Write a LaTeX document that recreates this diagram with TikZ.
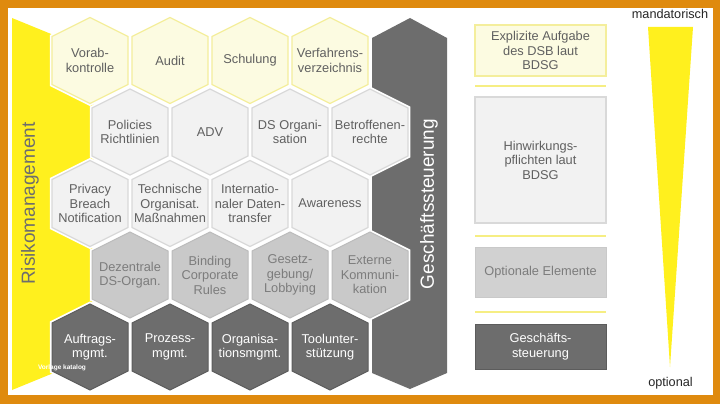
\documentclass[tikz,border=0pt]{standalone}
\usepackage{fontspec}
\setmainfont{Liberation Sans}
\definecolor{frameor}{HTML}{DF8A0E}
\definecolor{ybright}{HTML}{FFF01E}
\definecolor{ylight}{HTML}{FCFBE1}
\definecolor{yborder}{HTML}{F4EE9C}
\definecolor{glight}{HTML}{F2F2F2}
\definecolor{glightb}{HTML}{D9D9D9}
\definecolor{gmid}{HTML}{C9C9C9}
\definecolor{gmidb}{HTML}{BBBBBB}
\definecolor{gdark}{HTML}{6D6D6D}
\definecolor{gdarkb}{HTML}{5C5C5C}
\definecolor{tgray}{HTML}{606060}
\definecolor{tmid}{HTML}{7C7C7C}
\newcommand{\hexcell}[6]{%
  \path[#4,preaction={draw=white,line width=4.5pt},shift={(#2,#3)}]
    (0,-43) -- (38,-24) -- (38,24) -- (0,43) -- (-38,24) -- (-38,-24) -- cycle;
  \node[#5] (#1) at (#2,#3) {#6};}
\begin{document}
\begin{tikzpicture}[x=1pt,y=-1pt,
  hexA/.style={fill=ylight,draw=yborder,line width=1.3pt},
  hexB/.style={fill=glight,draw=glightb,line width=1.2pt},
  hexC/.style={fill=gmid,draw=gmidb,line width=1pt},
  hexD/.style={fill=gdark,draw=gdarkb,line width=1pt},
  basetxt/.style={align=center,inner sep=0pt,font=\fontsize{12.8}{14.5}\selectfont},
  txtA/.style={basetxt,text=tgray},
  txtC/.style={basetxt,text=tmid},
  txtD/.style={basetxt,text=white},
  legbox/.style={minimum width=131pt,inner sep=0pt,align=center,font=\fontsize{12.8}{14.5}\selectfont},
  sepline/.style={draw=yborder!80!ybright,line width=2.5pt},
  bigtxt/.style={rotate=90,inner sep=0pt,font=\fontsize{19}{22}\selectfont}
]
\useasboundingbox (0,0) rectangle (720,404);
% frame
\fill[frameor] (0,0) rectangle (720,404);
\fill[white] (7.5,8) rectangle (713,394.5);
% yellow band
\fill[ybright] (12,18) -- (56,36) -- (56,86) -- (96,106) -- (96,158) -- (56,180)
  -- (56,228) -- (96,250) -- (96,300) -- (56,322) -- (56,372) -- (12,390) -- cycle;
% Geschaeftssteuerung column
\fill[gdark] (410,18) -- (447,38) -- (447,373) -- (410,389) -- (372,373) -- (372,38) -- cycle;
% row 1
\hexcell{h11}{90}{60.5}{hexA}{txtA}{Vorab-\\kontrolle}
\hexcell{h12}{170}{60.5}{hexA}{txtA}{Audit}
\hexcell{h13}{250}{60.5}{hexA}{txtA}{Schulung}
\hexcell{h14}{330}{60.5}{hexA}{txtA}{Verfahrens-\\verzeichnis}
% row 2
\hexcell{h21}{130}{132}{hexB}{txtA}{Policies\\Richtlinien}
\hexcell{h22}{210}{132}{hexB}{txtA}{ADV}
\hexcell{h23}{290}{132}{hexB}{txtA}{DS Organi-\\sation}
\hexcell{h24}{370}{132}{hexB}{txtA}{Betroffenen-\\rechte}
% row 3
\hexcell{h31}{90}{203.5}{hexB}{txtA}{Privacy\\Breach\\Notification}
\hexcell{h32}{170}{203.5}{hexB}{txtA}{Technische\\Organisat.\\Maßnahmen}
\hexcell{h33}{250}{203.5}{hexB}{txtA}{Internatio-\\naler Daten-\\transfer}
\hexcell{h34}{330}{203.5}{hexB}{txtA}{Awareness}
% row 4
\hexcell{h41}{130}{275}{hexC}{txtC}{Dezentrale\\DS-Organ.}
\hexcell{h42}{210}{275}{hexC}{txtC}{Binding\\Corporate\\Rules}
\hexcell{h43}{290}{275}{hexC}{txtC}{Gesetz-\\gebung/\\Lobbying}
\hexcell{h44}{370}{275}{hexC}{txtC}{Externe\\Kommuni-\\kation}
% row 5
\hexcell{h51}{90}{347}{hexD}{txtD}{Auftrags-\\mgmt.}
\hexcell{h52}{170}{347}{hexD}{txtD}{Prozess-\\mgmt.}
\hexcell{h53}{250}{347}{hexD}{txtD}{Organisa-\\tionsmgmt.}
\hexcell{h54}{330}{347}{hexD}{txtD}{Toolunter-\\stützung}
% side labels
\node[bigtxt,text=gdark] (risk) at (30,203.5) {Risikomanagement};
\node[bigtxt,text=white] (gs) at (429,204) {Geschäftssteuerung};
% watermark
\node[text=white,inner sep=0pt,font=\bfseries\fontsize{6.5}{7}\selectfont] (wm) at (62,368) {Vorlage katalog};
% legend
\node[legbox,minimum height=51pt,fill=ylight,draw=yborder,line width=1.6pt,text=tgray] (l1) at (540.5,50.5) {Explizite Aufgabe\\des DSB laut\\BDSG};
\draw[sepline] (475,86) -- (606,86);
\node[legbox,minimum height=126pt,fill=glight,draw=glightb,line width=1.2pt,text=tgray] (l2) at (540.5,160) {Hinwirkungs-\\pflichten laut\\BDSG};
\draw[sepline] (475,236) -- (606,236);
\node[legbox,minimum height=50pt,fill=gmid!85!white,draw=gmidb!80!white,line width=1pt,text=tmid] (l3) at (540.5,272) {Optionale Elemente};
\draw[sepline] (475,312) -- (606,312);
\node[legbox,minimum height=45pt,fill=gdark,draw=gdarkb,line width=1pt,text=white] (l4) at (540.5,346.5) {Geschäfts-\\steuerung};
% wedge
\fill[ybright] (648,27) -- (693,27) -- (670,367) -- cycle;
\node[inner sep=0pt,text=black!85,font=\fontsize{12.7}{14}\selectfont] (mand) at (670,14) {mandatorisch};
\node[inner sep=0pt,text=black!85,font=\fontsize{12.7}{14}\selectfont] (opt) at (670.5,383) {optional};
\end{tikzpicture}
\end{document}
